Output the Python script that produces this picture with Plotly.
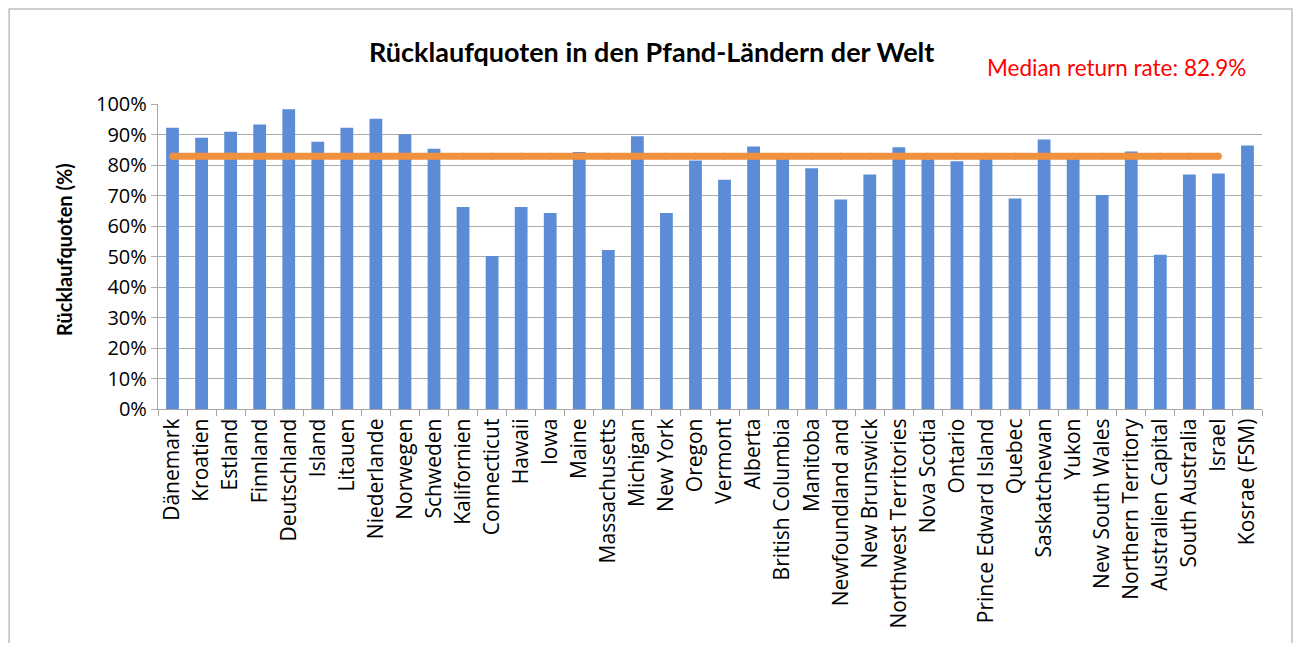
import plotly.graph_objects as go

categories = [
    "Dänemark", "Kroatien", "Estland", "Finnland", "Deutschland", "Island", "Litauen",
    "Niederlande", "Norwegen", "Schweden", "Kalifornien", "Connecticut", "Hawaii", "Iowa",
    "Maine", "Massachusetts", "Michigan", "New York", "Oregon", "Vermont", "Alberta",
    "British Columbia", "Manitoba", "Newfoundland and", "New Brunswick",
    "Northwest Territories", "Nova Scotia", "Ontario", "Prince Edward Island", "Quebec",
    "Saskatchewan", "Yukon", "New South Wales", "Northern Territory", "Australien Capital",
    "South Australia", "Israel", "Kosrae (FSM)",
]
return_rates = [
    92.2, 88.9, 90.9, 93.3, 98.3, 87.6, 92.2,
    95.2, 90.1, 85.3, 66.2, 50.2, 66.2, 64.3,
    84.3, 52.1, 89.4, 64.3, 81.5, 75.2, 86.1,
    82.0, 78.9, 68.7, 76.9,
    85.8, 82.0, 81.2, 82.5, 69.0,
    88.4, 82.0, 70.2, 84.4, 50.6,
    76.9, 77.2, 86.4,
]
median_rate = 82.9
median_categories = categories[:-1]
median_values = [median_rate] * len(median_categories)
y_ticks = [0, 10, 20, 30, 40, 50, 60, 70, 80, 90, 100]
y_tick_labels = ["0%", "10%", "20%", "30%", "40%", "50%", "60%", "70%", "80%", "90%", "100%"]

# page body has an 8px margin; figure coordinates = screen coordinates - 8
OFF = 8
W, H = 1286, 635
L, T = 158 - OFF, 104 - OFF
R = W - (1262 - OFF)
B = H - (409 - OFF)
pw, ph = W - L - R, H - T - B

def px(x):
    return (x - OFF - L) / pw

def py(y):
    return (H - B - (y - OFF)) / ph

fig = go.Figure()
fig.add_trace(go.Bar(
    x=categories, y=return_rates,
    marker=dict(color="#5B8CD5", line=dict(width=0)),
    hoverinfo="x+y",
))
fig.add_trace(go.Scatter(
    x=median_categories, y=median_values, mode="lines+markers",
    line=dict(color="#F0913F", width=7),
    marker=dict(color="#F0913F", size=7, line=dict(width=0)),
))

fig.update_layout(
    width=W, height=H,
    margin=dict(l=L, r=R, t=T, b=B),
    paper_bgcolor="white", plot_bgcolor="white",
    showlegend=False, bargap=0.56,
    font=dict(family="Open Sans", size=20, color="#000000"),
    xaxis=dict(
        type="category", tickangle=-90, showgrid=False,
        showline=True, linecolor="#A6A6A6", linewidth=1.3,
        ticks="outside", tickson="boundaries", ticklen=6, tickcolor="#A6A6A6",
        tickfont=dict(family="Open Sans", size=21, color="#000000"),
        range=[-0.5, len(categories) - 0.5],
    ),
    yaxis=dict(
        range=[0, 100], tickmode="array", tickvals=y_ticks, ticktext=y_tick_labels,
        showgrid=True, gridcolor="#ADADAD", gridwidth=1.3,
        showline=True, linecolor="#A6A6A6", linewidth=1.3,
        ticks="outside", ticklen=6, tickcolor="#ADADAD",
        tickfont=dict(family="Open Sans", size=20, color="#000000"),
        zeroline=False,
    ),
    annotations=[
        dict(text="<b>Rücklaufquoten in den Pfand-Ländern der Welt</b>",
             xref="paper", yref="paper", x=px(651), y=py(52),
             xanchor="center", yanchor="middle", showarrow=False,
             font=dict(family="Lato", size=27, color="#000000")),
        dict(text="Median return rate: 82.9%",
             xref="paper", yref="paper", x=px(1116), y=py(68),
             xanchor="center", yanchor="middle", showarrow=False,
             font=dict(family="Lato", size=22.5, color="#FF0000")),
        dict(text="<b>Rücklaufquoten (%)</b>",
             xref="paper", yref="paper", x=px(64), y=py(250),
             xanchor="center", yanchor="middle", showarrow=False, textangle=-90,
             font=dict(family="Lato", size=20, color="#000000")),
    ],
    shapes=[
        dict(type="rect", xref="paper", yref="paper",
             x0=px(6) if px(6) > -L / pw else -L / pw + 0.001, x1=px(1292),
             y0=py(680), y1=py(9),
             line=dict(color="#BFBFBF", width=1.5), fillcolor="rgba(0,0,0,0)",
             layer="below"),
    ],
)

fig.write_html("out.html")
